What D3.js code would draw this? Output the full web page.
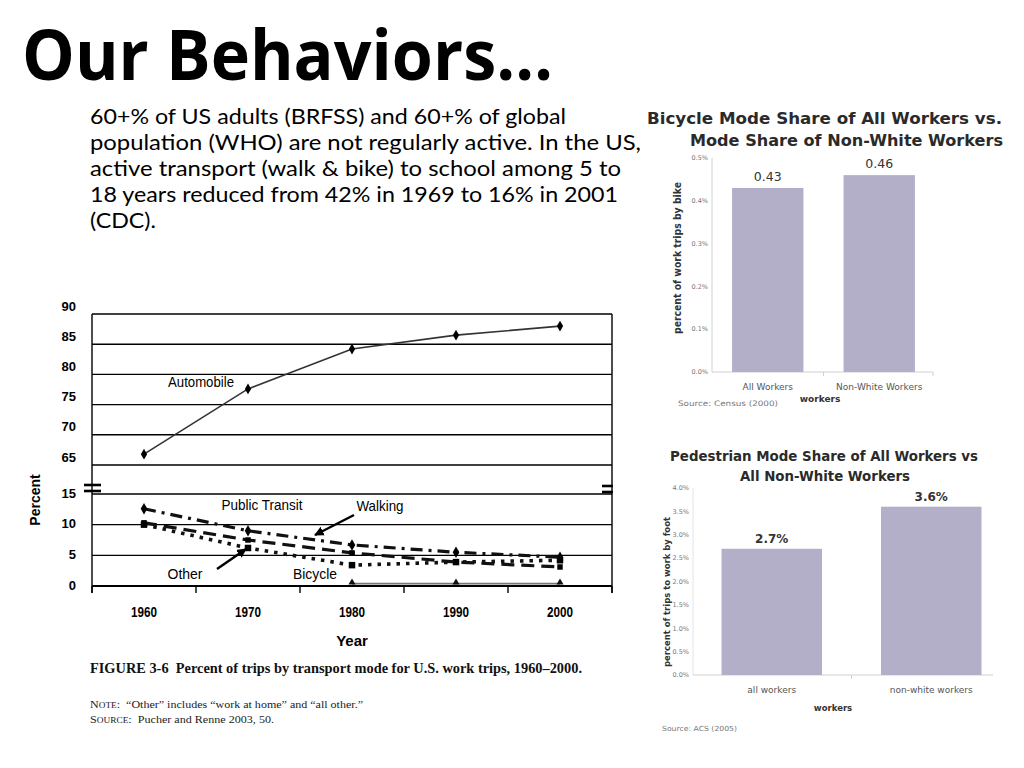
<!DOCTYPE html>
<html><head><meta charset="utf-8">
<script src="https://cdn.jsdelivr.net/npm/d3@7"></script>
<style>body{margin:0;background:#fff}svg{display:block}text{white-space:pre}</style>
</head><body>
<svg id="c" width="1024" height="768"></svg>
<script>
// ---------- data ----------
const years = ["1960", "1970", "1980", "1990", "2000"];
const automobile = [66.8, 77.6, 84.2, 86.5, 88.0];
const transit = [12.6, 9.0, 6.7, 5.5, 4.7];
const walking = [10.3, 7.5, 5.4, 3.9, 3.1];
const other = [10.0, 6.2, 3.4, 3.9, 4.2];
const bicycle = [null, null, 0.4, 0.4, 0.4];
const upperTicks = [65, 70, 75, 80, 85, 90];
const lowerTicks = [0, 5, 10, 15];

const bikeCats = ["All Workers", "Non-White Workers"];
const bikeShare = [0.43, 0.46];
const bikeLabels = ["0.43", "0.46"];
const bikeTicks = [0, 0.1, 0.2, 0.3, 0.4, 0.5];

const pedCats = ["all workers", "non-white workers"];
const pedShare = [2.7, 3.6];
const pedLabels = ["2.7%", "3.6%"];
const pedTicks = [0, 0.5, 1.0, 1.5, 2.0, 2.5, 3.0, 3.5, 4.0];

const titleText = "Our Behaviors\u2026";
const bodyLines = [
  "60+% of US adults (BRFSS) and 60+% of global",
  "population (WHO) are not regularly active. In the US,",
  "active transport (walk & bike) to school among 5 to",
  "18 years reduced from 42% in 1969 to 16% in 2001",
  "(CDC)."
];

// ---------- setup ----------
const svg = d3.select("#c");
svg.append("rect").attr("width", 1024).attr("height", 768).attr("fill", "#fff");

function txt(g, s, x, y, o = {}) {
  const t = g.append("text").attr("x", x).attr("y", y).text(s)
    .attr("font-family", o.family || "'Open Sans', sans-serif")
    .attr("font-size", o.size || 12)
    .attr("font-weight", o.weight || "normal")
    .attr("fill", o.fill || "#000")
    .attr("text-anchor", o.anchor || "start");
  if (o.width) t.attr("textLength", o.width).attr("lengthAdjust", "spacingAndGlyphs");
  if (o.rotate) t.attr("transform", `rotate(${o.rotate},${x},${y})`);
  if (o.dy) t.attr("dy", o.dy);
  return t;
}

// ---------- title & body ----------
txt(svg, titleText, 22, 80, {family: "'Open Sans', sans-serif", weight: "bold", size: 70, width: 531});
const bodyW = [476, 551, 531, 528, 66];
bodyLines.forEach((l, i) => {
  txt(svg, l, 90, 124 + i * 26, {family: "Lato, 'Open Sans', sans-serif", size: 21.5, width: bodyW[i]});
});

// ---------- left line chart ----------
const narrow = "'Liberation Sans Narrow', 'Arial Narrow', 'Liberation Sans', sans-serif";
const L = svg.append("g");
const x = d3.scaleBand().domain(years).range([92, 612]);
const cx = d => x(d) + x.bandwidth() / 2;
const yTop = d3.scaleLinear().domain([65, 90]).range([465, 314]);
const yBot = d3.scaleLinear().domain([0, 15]).range([586, 494]);
const [x0, x1] = x.range();

upperTicks.forEach(t => {
  L.append("line").attr("x1", x0).attr("x2", x1).attr("y1", yTop(t)).attr("y2", yTop(t))
    .attr("stroke", "#000").attr("stroke-width", 1.4);
});
lowerTicks.forEach(t => {
  L.append("line").attr("x1", x0).attr("x2", x1).attr("y1", yBot(t)).attr("y2", yBot(t))
    .attr("stroke", "#000").attr("stroke-width", t === 0 ? 1.8 : 1.4);
});
[x0, x1].forEach(xx => {
  L.append("line").attr("x1", xx).attr("x2", xx).attr("y1", yTop(90)).attr("y2", yBot(0) + 7)
    .attr("stroke", "#000").attr("stroke-width", 1.4);
});
years.map(d => x(d)).concat([x1]).forEach(xx => {
  L.append("line").attr("x1", xx).attr("x2", xx).attr("y1", yBot(0)).attr("y2", yBot(0) + 7)
    .attr("stroke", "#000").attr("stroke-width", 1.4);
});
[[x0 - 8, x0 + 9], [x1 - 10, x1 + 1]].forEach(([a, b], k) => {
  [-9, -3].forEach(off => {
    L.append("line").attr("x1", a).attr("x2", b)
      .attr("y1", yBot(15) + off + k).attr("y2", yBot(15) + off + k)
      .attr("stroke", "#000").attr("stroke-width", 2.6);
  });
});
upperTicks.forEach(t => txt(L, String(t), 76, yTop(t) - 8, {family: narrow, weight: "bold", size: 13, anchor: "end", dy: "0.35em"}));
lowerTicks.forEach(t => txt(L, String(t), 76, yBot(t) - 1, {family: narrow, weight: "bold", size: 13, anchor: "end", dy: "0.35em"}));
years.forEach(d => txt(L, d, cx(d), 617, {family: narrow, weight: "bold", size: 14.5, anchor: "middle", width: 26}));
txt(L, "Year", cx("1980"), 646, {family: narrow, weight: "bold", size: 15, anchor: "middle"});
txt(L, "Percent", 40, 500, {family: narrow, weight: "bold", size: 14, anchor: "middle", rotate: -90});

const lineTop = d3.line().x((d, i) => cx(years[i])).y(d => yTop(d));
const lineBot = d3.line().defined(d => d != null).x((d, i) => cx(years[i])).y(d => yBot(d));

L.append("path").attr("d", lineTop(automobile)).attr("fill", "none").attr("stroke", "#333").attr("stroke-width", 1.6);
L.selectAll(".am").data(automobile).join("path")
  .attr("transform", (d, i) => `translate(${cx(years[i])},${yTop(d)})`)
  .attr("d", d3.symbol(d3.symbolDiamond, 34)).attr("fill", "#000");

L.append("path").attr("d", lineBot(bicycle)).attr("fill", "none").attr("stroke", "#777").attr("stroke-width", 1.8);
L.selectAll(".bm").data(bicycle.map((v, i) => [v, i]).filter(d => d[0] != null)).join("path")
  .attr("transform", d => `translate(${cx(years[d[1]])},${yBot(d[0]) - 1})`)
  .attr("d", d3.symbol(d3.symbolTriangle, 22)).attr("fill", "#111");

const series = [
  {v: other, dash: "3.5,6", w: 3.6, m: d3.symbolSquare, ms: 42},
  {v: walking, dash: "13,7", w: 3.2, m: d3.symbolSquare, ms: 30},
  {v: transit, dash: "12,6,3,6", w: 3.2, m: d3.symbolDiamond, ms: 38}
];
series.forEach(s => {
  L.append("path").attr("d", lineBot(s.v)).attr("fill", "none").attr("stroke", "#111")
    .attr("stroke-width", s.w).attr("stroke-dasharray", s.dash);
  L.selectAll(null).data(s.v).join("path")
    .attr("transform", (d, i) => `translate(${cx(years[i])},${yBot(d)})`)
    .attr("d", d3.symbol(s.m, s.ms)).attr("fill", "#000");
});

const lab = {family: narrow, size: 14};
txt(L, "Automobile", 201, 387, Object.assign({anchor: "middle", width: 66}, lab));
txt(L, "Public Transit", 262, 510, Object.assign({anchor: "middle", width: 81}, lab));
txt(L, "Walking", 380, 511, Object.assign({anchor: "middle", width: 47}, lab));
txt(L, "Other", 185, 579, Object.assign({anchor: "middle", width: 35}, lab));
txt(L, "Bicycle", 315, 579, Object.assign({anchor: "middle", width: 44}, lab));

svg.append("defs").append("marker").attr("id", "ah").attr("viewBox", "0 0 10 10")
  .attr("refX", 9).attr("refY", 5).attr("markerWidth", 4).attr("markerHeight", 4)
  .attr("orient", "auto").append("path").attr("d", "M0,0L10,5L0,10z").attr("fill", "#000");
L.append("line").attr("x1", 354).attr("y1", 515).attr("x2", 315).attr("y2", 535)
  .attr("stroke", "#000").attr("stroke-width", 2.4).attr("marker-end", "url(#ah)");
L.append("line").attr("x1", 217).attr("y1", 569).attr("x2", 246).attr("y2", 549)
  .attr("stroke", "#000").attr("stroke-width", 2.4).attr("marker-end", "url(#ah)");

// caption
const serif = "'Liberation Serif', 'Times New Roman', serif";
txt(svg, "FIGURE 3-6\u00a0\u00a0Percent of trips by transport mode for U.S. work trips, 1960\u20132000.", 90, 673,
  {family: serif, size: 15.5, weight: "bold", width: 492, fill: "#111"});
const cap1 = svg.append("text").attr("x", 90).attr("y", 708).attr("font-family", serif).attr("font-size", 11).attr("fill", "#222")
  .attr("textLength", 273).attr("lengthAdjust", "spacingAndGlyphs");
cap1.append("tspan").text("N");
cap1.append("tspan").text("OTE").attr("font-size", 8.5);
cap1.append("tspan").text(":\u00a0\u00a0\u201cOther\u201d includes \u201cwork at home\u201d and \u201call other.\u201d");
const cap2 = svg.append("text").attr("x", 90).attr("y", 723).attr("font-family", serif).attr("font-size", 11).attr("fill", "#222")
  .attr("textLength", 184).attr("lengthAdjust", "spacingAndGlyphs");
cap2.append("tspan").text("S");
cap2.append("tspan").text("OURCE").attr("font-size", 8.5);
cap2.append("tspan").text(":\u00a0\u00a0Pucher and Renne 2003, 50.");

// ---------- right top bar chart ----------
const gfont = "'DejaVu Sans', sans-serif";
const R1 = svg.append("g");
txt(R1, "Bicycle Mode Share of All Workers vs.", 647, 124, {family: gfont, weight: "bold", size: 15, width: 355, fill: "#2a2a2a"});
txt(R1, "Mode Share of Non-White Workers", 690, 146, {family: gfont, weight: "bold", size: 15, width: 313, fill: "#2a2a2a"});
const xb = d3.scaleBand().domain(bikeCats).range([712, 935]).paddingInner(0.36).paddingOuter(0.18);
const yb = d3.scaleLinear().domain([0, 0.5]).range([372, 158]);
R1.append("line").attr("x1", 712).attr("x2", 712).attr("y1", yb(0.5)).attr("y2", yb(0)).attr("stroke", "#d0d0d0");
R1.append("line").attr("x1", 712).attr("x2", 933).attr("y1", yb(0)).attr("y2", yb(0)).attr("stroke", "#d0d0d0");
[xb.step() + 712, 933].forEach(xx => R1.append("line").attr("x1", xx).attr("x2", xx).attr("y1", yb(0)).attr("y2", yb(0) + 4).attr("stroke", "#d0d0d0"));
bikeTicks.forEach(t => txt(R1, t.toFixed(1) + "%", 708, yb(t), {family: gfont, size: 6.5, anchor: "end", fill: "#777", dy: "0.35em"}));
R1.selectAll(".bb").data(bikeShare).join("rect")
  .attr("x", (d, i) => xb(bikeCats[i])).attr("width", xb.bandwidth())
  .attr("y", d => yb(d)).attr("height", d => yb(0) - yb(d)).attr("fill", "#b3afc9");
bikeShare.forEach((d, i) => txt(R1, bikeLabels[i], xb(bikeCats[i]) + xb.bandwidth() / 2, yb(d) - 7, {family: gfont, size: 12.5, anchor: "middle", fill: "#333"}));
bikeCats.forEach(c => txt(R1, c, xb(c) + xb.bandwidth() / 2, 390, {family: gfont, size: 9, anchor: "middle", fill: "#555"}));
txt(R1, "workers", 820, 402, {family: gfont, size: 9, weight: "bold", anchor: "middle", fill: "#333"});
txt(R1, "Source: Census (2000)", 678, 406, {family: gfont, size: 7.5, fill: "#777", width: 100});
txt(R1, "percent of work trips by bike", 681, 258, {family: gfont, size: 10.5, weight: "bold", anchor: "middle", fill: "#333", rotate: -90, width: 152});

// ---------- right bottom bar chart ----------
const R2 = svg.append("g");
txt(R2, "Pedestrian Mode Share of All Workers vs", 670, 461, {family: gfont, weight: "bold", size: 14.5, width: 308, fill: "#2a2a2a"});
txt(R2, "All Non-White Workers", 740, 481, {family: gfont, weight: "bold", size: 14.5, width: 170, fill: "#2a2a2a"});
const xp = d3.scaleBand().domain(pedCats).range([692, 1011]).paddingInner(0.37).paddingOuter(0.185);
const yp = d3.scaleLinear().domain([0, 4]).range([675, 488]);
R2.append("line").attr("x1", 693).attr("x2", 693).attr("y1", yp(4)).attr("y2", yp(0)).attr("stroke", "#e4e4e4");
R2.append("line").attr("x1", 693).attr("x2", 993).attr("y1", yp(0)).attr("y2", yp(0)).attr("stroke", "#d0d0d0");
R2.append("line").attr("x1", 692 + xp.step()).attr("x2", 692 + xp.step()).attr("y1", yp(0)).attr("y2", yp(0) + 4).attr("stroke", "#d0d0d0");
pedTicks.forEach(t => txt(R2, t.toFixed(1) + "%", 689, yp(t), {family: gfont, size: 6.5, anchor: "end", fill: "#777", dy: "0.35em"}));
R2.selectAll(".pb").data(pedShare).join("rect")
  .attr("x", (d, i) => xp(pedCats[i])).attr("width", xp.bandwidth())
  .attr("y", d => yp(d)).attr("height", d => yp(0) - yp(d)).attr("fill", "#b3afc9");
pedShare.forEach((d, i) => txt(R2, pedLabels[i], xp(pedCats[i]) + xp.bandwidth() / 2, yp(d) - 6, {family: gfont, size: 12, weight: "bold", anchor: "middle", fill: "#333"}));
pedCats.forEach(c => txt(R2, c, xp(c) + xp.bandwidth() / 2, 693, {family: gfont, size: 9, anchor: "middle", fill: "#555"}));
txt(R2, "workers", 833, 711, {family: gfont, size: 8.5, weight: "bold", anchor: "middle", fill: "#333"});
txt(R2, "Source: ACS (2005)", 662, 731, {family: gfont, size: 7, fill: "#777", width: 75});
txt(R2, "percent of trips to work by foot", 670, 592, {family: gfont, size: 9.5, weight: "bold", anchor: "middle", fill: "#333", rotate: -90, width: 150});
</script>
</body></html>
